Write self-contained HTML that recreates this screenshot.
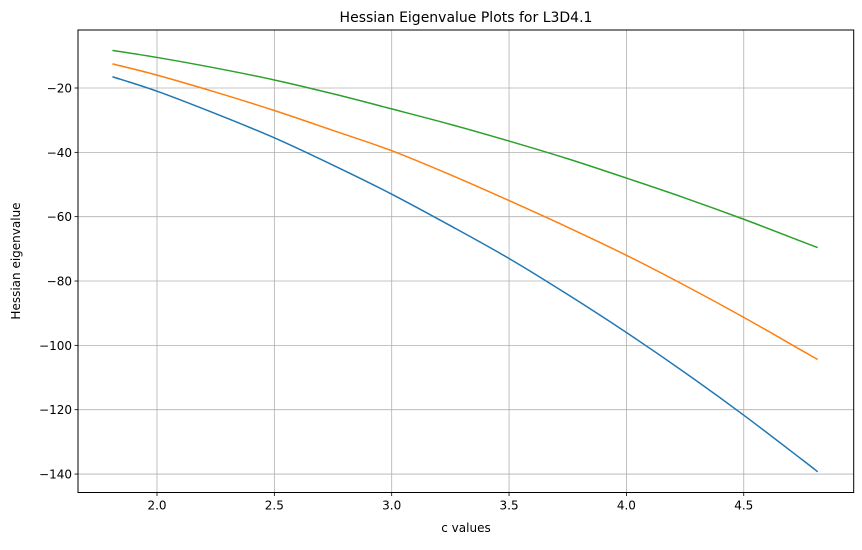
<!DOCTYPE html>
<html><head><meta charset="utf-8"><style>
body{margin:0;background:#fff;font-family:"Liberation Sans","DejaVu Sans",sans-serif;}
svg text{font-family:"DejaVu Sans","Liberation Sans",sans-serif;}
</style></head><body>
<svg id="chart" width="862" height="545" xmlns="http://www.w3.org/2000/svg">
<g id="grid"></g>
<g id="series"></g>
<rect x="78" y="30" width="775.7" height="462.5" fill="none" stroke="#000" stroke-width="1"/>
<g id="ticks"></g>
<text x="466" y="22" font-size="14" text-anchor="middle">Hessian Eigenvalue Plots for L3D4.1</text>
<text x="466" y="532" font-size="12" text-anchor="middle">c values</text>
<text transform="translate(20,261) rotate(-90)" font-size="12" text-anchor="middle">Hessian eigenvalue</text>
</svg>
<script>
const xTicks=[2.0,2.5,3.0,3.5,4.0,4.5];
const xTickLabels=["2.0","2.5","3.0","3.5","4.0","4.5"];
const yTicks=[-20,-40,-60,-80,-100,-120,-140];
const yTickLabels=["−20","−40","−60","−80","−100","−120","−140"];
const cValues=[1.81,2.0,2.25,2.5,2.75,3.0,3.25,3.5,3.75,4.0,4.25,4.5,4.75,4.815];
const blueSeries=[-16.5,-21,-28,-35.5,-44,-53,-62.8,-73,-84.2,-96,-108.5,-121.7,-135.6,-139.3];
const orangeSeries=[-12.5,-16,-21.3,-27,-33.2,-39.5,-47,-55,-63.3,-72,-81.4,-91.3,-101.7,-104.4];
const greenSeries=[-8.3,-10.5,-13.8,-17.5,-21.8,-26.5,-31.3,-36.5,-42,-48,-54.2,-60.8,-67.8,-69.6];
const X0=78,X1=853.7,Y0=30,Y1=492.5;
function xs(v){return 157+(v-2.0)*234.7;}
function ys(v){return 88+(-20-v)*3.217;}
const ns="http://www.w3.org/2000/svg";
const grid=document.getElementById('grid'),ticks=document.getElementById('ticks'),ser=document.getElementById('series');
function mk(tag,at,parent){const e=document.createElementNS(ns,tag);for(const k in at)e.setAttribute(k,at[k]);parent.appendChild(e);return e;}
xTicks.forEach((t,i)=>{const x=xs(t);
 const g=mk('line',{x1:x,x2:x,y1:Y0,y2:Y1,stroke:'#b0b0b0','stroke-width':0.8},grid);
 
 
 const tk=mk('line',{x1:x,x2:x,y1:Y1,y2:Y1+3.5,stroke:'#000','stroke-width':0.8},ticks);
 
 
 const tx=mk('text',{x:x,y:Y1+17,'font-size':12,'text-anchor':'middle'},ticks);tx.textContent=xTickLabels[i];
 
 
});
yTicks.forEach((t,i)=>{const y=ys(t);
 const g=mk('line',{x1:X0,x2:X1,y1:y,y2:y,stroke:'#b0b0b0','stroke-width':0.8},grid);
 
 
 const tk=mk('line',{x1:X0-3.5,x2:X0,y1:y,y2:y,stroke:'#000','stroke-width':0.8},ticks);
 
 
 const tx=mk('text',{x:X0-6,y:y+4.5,'font-size':12,'text-anchor':'end'},ticks);tx.textContent=yTickLabels[i];
 
 
});
function pathFor(vals){const p=cValues.map((c,i)=>[xs(c),ys(vals[i])]);
 let d='M'+p[0][0]+','+p[0][1];
 for(let i=0;i<p.length-1;i++){const p0=p[Math.max(0,i-1)],p1=p[i],p2=p[i+1],p3=p[Math.min(p.length-1,i+2)];
  const c1=[p1[0]+(p2[0]-p0[0])/6,p1[1]+(p2[1]-p0[1])/6],c2=[p2[0]-(p3[0]-p1[0])/6,p2[1]-(p3[1]-p1[1])/6];
  d+=' C'+c1+' '+c2+' '+p2;}
 return d;}
[[blueSeries,'#1f77b4','blue-line'],[orangeSeries,'#ff7f0e','orange-line'],[greenSeries,'#2ca02c','green-line']].forEach(s=>{
 const e=mk('path',{d:pathFor(s[0]),fill:'none',stroke:s[1],'stroke-width':1.5},ser);
 
 
});
</script>
</body></html>
